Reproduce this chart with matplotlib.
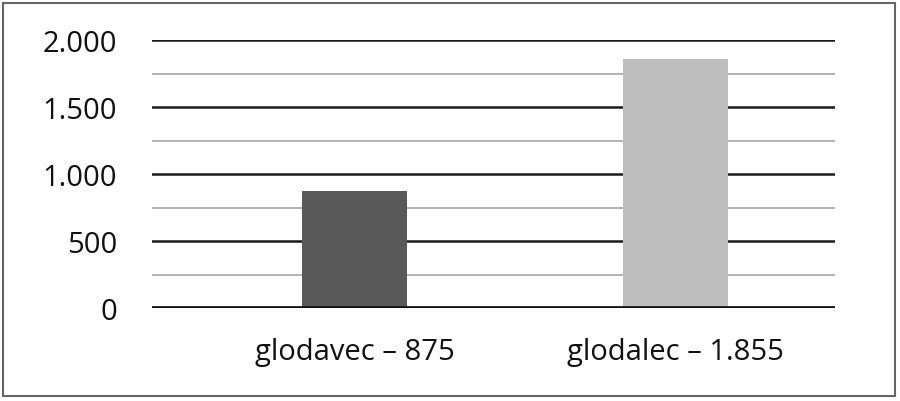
import matplotlib.pyplot as plt
from matplotlib.patches import Rectangle
from matplotlib.ticker import FixedLocator

categories = ['glodavec – 875', 'glodalec – 1.855']
values = [875, 1855]
bar_colors = ['#595959', '#bdbdbd']
major_ticks = [0, 500, 1000, 1500, 2000]
major_labels = ['0', '500', '1.000', '1.500', '2.000']
minor_ticks = [250, 750, 1250, 1750]

plt.rcParams['font.family'] = ['Open Sans', 'DejaVu Sans']

fig = plt.figure(figsize=(9, 4.02), dpi=100)
ax = fig.add_axes([152 / 900, 1 - 309 / 402, (835 - 152) / 900, (309 - 41) / 402])

x = list(range(len(categories)))
ax.bar(x, values, width=0.327, color=bar_colors, zorder=3)

ax.set_ylim(0, 2000)
ax.set_xlim(-0.63, 1.495)

# gridlines: black for major, grey for minor
for y in major_ticks[1:]:
    ax.axhline(y, color='#1a1a1a', lw=1.8, zorder=1)
for y in minor_ticks:
    ax.axhline(y, color='#a6a6a6', lw=1.2, zorder=1)
ax.axhline(0, color='#111111', lw=3.4, zorder=4)

ax.yaxis.set_major_locator(FixedLocator(major_ticks))
ax.set_yticklabels(major_labels)
ax.set_xticks(x)
ax.set_xticklabels(categories)
ax.tick_params(axis='y', length=0, pad=25, labelsize=21, labelcolor='#111111')
ax.tick_params(axis='x', length=0, pad=21, labelsize=21, labelcolor='#111111')
for s in ax.spines.values():
    s.set_visible(False)

# frame around whole figure
fig.patches.append(Rectangle((3 / 900, 5 / 402), 892 / 900, 393 / 402,
                             transform=fig.transFigure, fill=False,
                             edgecolor='#666666', lw=1.5))

fig.savefig('out.png', dpi=100)
